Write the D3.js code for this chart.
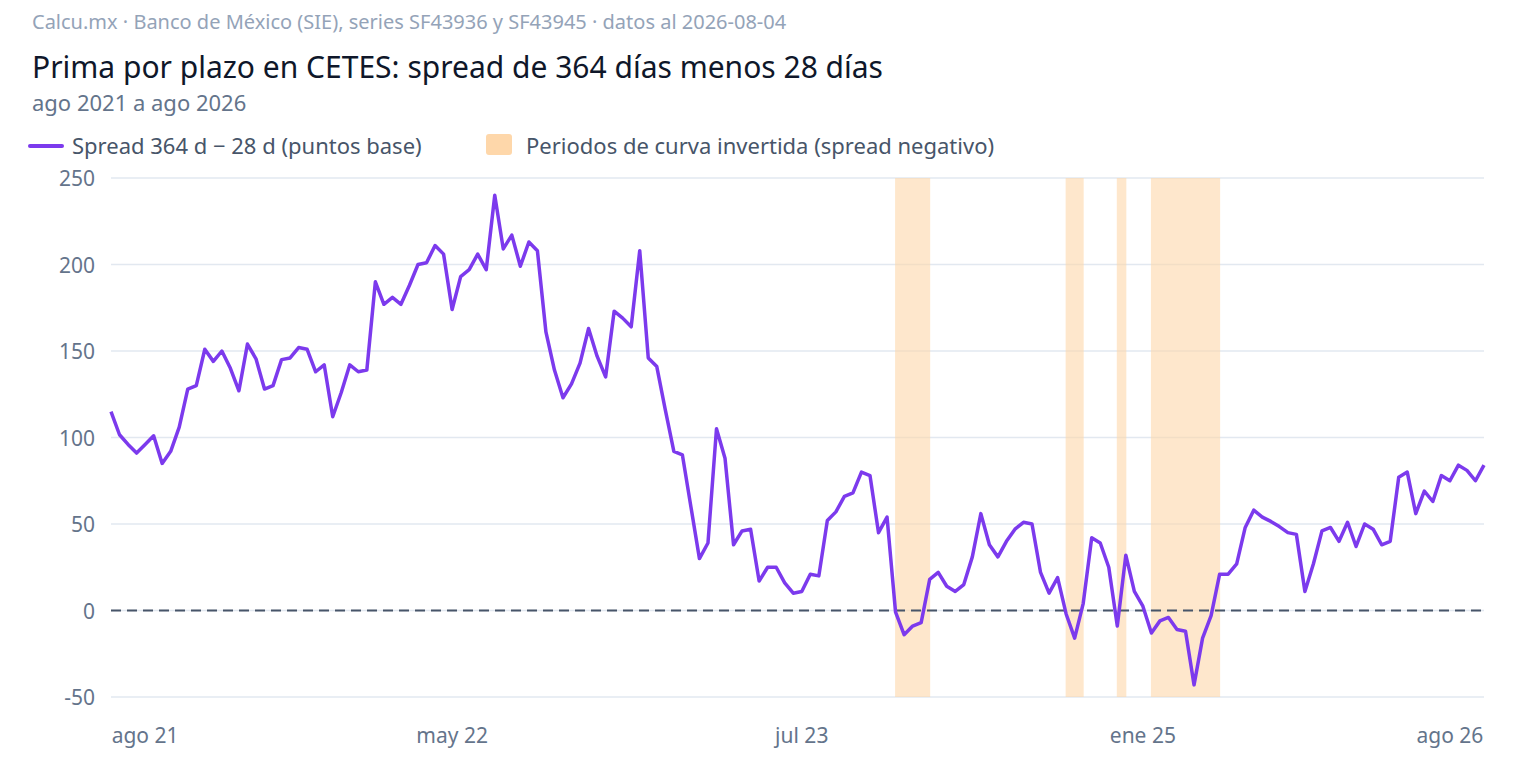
<!DOCTYPE html>
<html><head><meta charset="utf-8">
<script src="https://cdn.jsdelivr.net/npm/d3@7"></script>
<style>body{margin:0;background:#fff;font-family:"Noto Sans",sans-serif}</style>
</head><body><div id="chart"></div>
<script>
// spread 364d - 28d, puntos base
var spread = [115,101.6,96,91,96,101,85,92,106,128,130,151,144,150,140,127,154,145.5,128,130,
  145,146,152,151,138,142,112,126,142,138,139,190,177,181,177,188,200,201,211,206,
  174,193,197,206,197,240,209,217,199,213,208,161,139,123,131,143,163,147,135,173,
  169,164,208,146,141,116,92,90,60,30,39,105,88,38,46,47,17,25,25,16,
  10,11,21,20,52,57,66,68,80,78,45,54,-1,-14,-9,-7,18,22,14,11,
  15,31,56,38,31,40,47,51,50,22,10,19,-2,-16,4,42,39,25,-9,32,
  11,2.5,-13,-6,-4,-11,-12,-43,-16,-3,21,21,27,48,58,54,51.5,48.5,45,44,
  11,27,46,48,40,51,37,50,47,38,40,77,80,56,69,63,78,75,84,81,75,84];
var inverted = [[92,96],[112,114],[118,119],[122,130]];
var tickIdx = [4,40,81,121,157];
var tickText = ["ago 21","may 22","jul 23","ene 25","ago 26"];
var yTicks = [-50,0,50,100,150,200,250];

var W = 1520, H = 762, L = 111, R = 1484, T = 178, B = 697;
var svg = d3.select('#chart').append('svg').attr('width', W).attr('height', H);

var x = d3.scaleLinear().domain([0, spread.length - 1]).range([L, R]);
var y = d3.scaleLinear().domain([-50, 250]).range([B, T]);
var step = x(1) - x(0);

svg.append('text').attr('x', 32).attr('y', 29).attr('fill', '#94a3b8').attr('font-size', 20)
  .text('Calcu.mx · Banco de México (SIE), series SF43936 y SF43945 · datos al 2026-08-04');
svg.append('text').attr('x', 32).attr('y', 78).attr('fill', '#0f172a').attr('font-size', 30)
  .text('Prima por plazo en CETES: spread de 364 días menos 28 días');
svg.append('text').attr('x', 32).attr('y', 111).attr('fill', '#64748b').attr('font-size', 22)
  .text('ago 2021 a ago 2026');

// legend
svg.append('line').attr('x1', 30).attr('x2', 62).attr('y1', 146).attr('y2', 146)
  .attr('stroke', '#7c3aed').attr('stroke-width', 4).attr('stroke-linecap', 'round');
svg.append('text').attr('x', 72).attr('y', 154).attr('fill', '#475569').attr('font-size', 22)
  .text('Spread 364 d − 28 d (puntos base)');
svg.append('rect').attr('x', 486).attr('y', 134).attr('width', 26).attr('height', 21).attr('rx', 3)
  .attr('fill', '#fed7aa');
svg.append('text').attr('x', 526).attr('y', 154).attr('fill', '#475569').attr('font-size', 22)
  .text('Periodos de curva invertida (spread negativo)');

// grid
svg.selectAll('.grid').data(yTicks).enter().append('line')
  .attr('x1', L).attr('x2', R).attr('y1', function(d) { return y(d); }).attr('y2', function(d) { return y(d); })
  .attr('stroke', '#e2e8f0').attr('stroke-width', 1.5);
svg.selectAll('.yl').data(yTicks).enter().append('text')
  .attr('x', 95).attr('y', function(d) { return y(d) + 8; }).attr('text-anchor', 'end')
  .attr('fill', '#64748b').attr('font-size', 21).text(function(d) { return d; });

// inverted bands
svg.selectAll('.band').data(inverted).enter().append('rect')
  .attr('x', function(d) { return x(d[0]) - 0.5; })
  .attr('width', function(d) { return x(d[1]) - x(d[0]) + 1 || step; })
  .attr('y', T).attr('height', B - T)
  .attr('fill', '#fed7aa').attr('opacity', 0.6);

svg.append('line').attr('x1', L).attr('x2', R).attr('y1', y(0)).attr('y2', y(0))
  .attr('stroke', '#475569').attr('stroke-width', 2).attr('stroke-dasharray', '10,6');

svg.append('path').datum(spread)
  .attr('d', d3.line().x(function(d, i) { return x(i); }).y(function(d) { return y(d); }))
  .attr('fill', 'none').attr('stroke', '#7c3aed').attr('stroke-width', 3.5).attr('stroke-linejoin', 'round');

svg.selectAll('.xl').data(tickIdx).enter().append('text')
  .attr('x', function(d) { return x(d); }).attr('y', 743).attr('text-anchor', 'middle')
  .attr('fill', '#64748b').attr('font-size', 21).text(function(d, i) { return tickText[i]; });
</script></body></html>
